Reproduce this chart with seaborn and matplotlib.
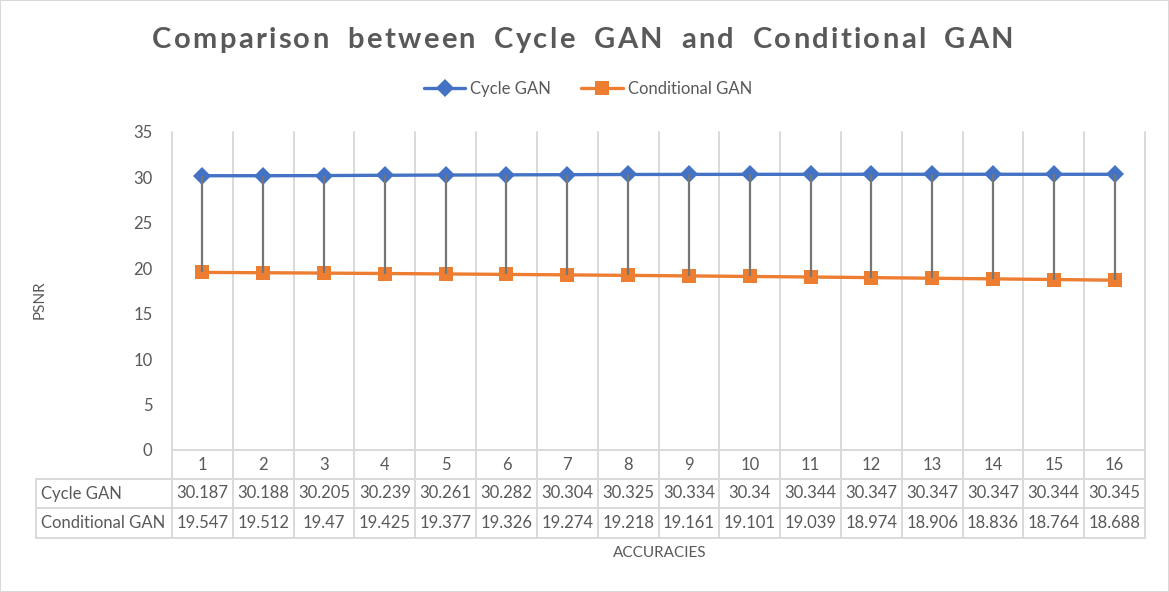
import numpy as np
import pandas as pd
import seaborn as sns
from matplotlib import pyplot as plt
from matplotlib.lines import Line2D
from matplotlib.patches import Rectangle

accuracies = list(range(1, 17))
cycle_gan = [30.187, 30.188, 30.205, 30.239, 30.261, 30.282, 30.304, 30.325,
             30.334, 30.34, 30.344, 30.347, 30.347, 30.347, 30.344, 30.345]
cond_gan = [19.547, 19.512, 19.47, 19.425, 19.377, 19.326, 19.274, 19.218,
            19.161, 19.101, 19.039, 18.974, 18.906, 18.836, 18.764, 18.688]
series_names = ['Cycle GAN', 'Conditional GAN']
y_ticks = [0, 5, 10, 15, 20, 25, 30, 35]
title = 'Comparison between Cycle GAN and Conditional GAN'

sns.set_style('white')
plt.rcParams['font.family'] = ['Lato', 'DejaVu Sans']

txt = '#595959'
blue = '#4472c4'
orange = '#ed7d31'
grid = '#d9d9d9'
n = len(accuracies)

df = pd.DataFrame({'pos': list(range(n)) * 2,
                   'PSNR': cycle_gan + cond_gan,
                   'model': [series_names[0]] * n + [series_names[1]] * n})

W, H = 1169, 592
fig = plt.figure(figsize=(W / 100, H / 100), dpi=100)
ax = fig.add_axes([172 / W, 1 - 450 / H, 973 / W, 318 / H])

# the two series
sns.lineplot(data=df[df.model == series_names[0]], x='pos', y='PSNR', color=blue,
             marker='D', markersize=9, markeredgewidth=0, linewidth=2.4,
             ax=ax, legend=False, zorder=3)
sns.lineplot(data=df[df.model == series_names[1]], x='pos', y='PSNR', color=orange,
             marker='s', markersize=10, markeredgewidth=0, linewidth=2.4,
             ax=ax, legend=False, zorder=3)

# drop lines between the series
ax.vlines(range(n), cond_gan, cycle_gan, color='#767676', lw=1.6, zorder=5)

ax.set_xlim(-0.5, n - 0.5)
ax.set_ylim(0, 35)
ax.set_yticks(y_ticks)
ax.set_xticks([])
ax.tick_params(axis='y', length=0, labelsize=12, labelcolor=txt, pad=14)
ax.set_xlabel('')
ax.set_ylabel('')
for s in ax.spines.values():
    s.set_visible(False)

# category gridlines, running down through the table
xt = ax.get_xaxis_transform()
y_rows = [0, -29 / 318, -58 / 318, -88 / 318]
for b in np.arange(-0.5, n, 1):
    ax.plot([b, b], [1, y_rows[-1]], transform=xt, color=grid, lw=1.4,
            clip_on=False, zorder=0)

# table borders
lab_x = (36 - 172) / 973
ax.plot([0, 1], [0, 0], transform=ax.transAxes, color=grid, lw=1.4, clip_on=False)
for yr in y_rows[1:]:
    ax.plot([lab_x, 1], [yr, yr], transform=ax.transAxes, color=grid, lw=1.4,
            clip_on=False)
ax.plot([lab_x, lab_x], [y_rows[1], y_rows[-1]], transform=ax.transAxes,
        color=grid, lw=1.4, clip_on=False)

# table text
for i in range(n):
    ax.text(i, (y_rows[0] + y_rows[1]) / 2, str(accuracies[i]), transform=xt,
            ha='center', va='center', fontsize=12, color=txt)
    ax.text(i, (y_rows[1] + y_rows[2]) / 2, f'{cycle_gan[i]:g}', transform=xt,
            ha='center', va='center', fontsize=12, color=txt)
    ax.text(i, (y_rows[2] + y_rows[3]) / 2, f'{cond_gan[i]:g}', transform=xt,
            ha='center', va='center', fontsize=12, color=txt)
for k, name in enumerate(series_names):
    ax.text(lab_x + 5 / 973, (y_rows[k + 1] + y_rows[k + 2]) / 2, name,
            transform=ax.transAxes, ha='left', va='center', fontsize=12, color=txt)

# axis labels
fig.text(40 / W, 1 - 300 / H, 'PSNR', rotation=90, ha='center', va='center',
         fontsize=11, color=txt)
fig.text(660 / W, 1 - 553 / H, 'ACCURACIES', ha='center', va='center',
         fontsize=11, color=txt)

# title with wide letter spacing, placed char by char
renderer = fig.canvas.get_renderer()
def text_w(s):
    t = fig.text(0, 0, s, fontsize=21, fontweight='bold')
    w = t.get_window_extent(renderer).width
    t.remove()
    return w
space_w = text_w('n n') - text_w('nn')
widths = [space_w * 2.0 if ch == ' ' else text_w(ch) for ch in title]
gap = (861 - sum(widths)) / (len(title) - 1)
x = 152
for ch, w in zip(title, widths):
    if ch != ' ':
        fig.text(x / W, 1 - 48 / H, ch, fontsize=21, fontweight='bold', color=txt,
                 ha='left', va='baseline')
    x += w + gap

handles = [Line2D([], [], color=blue, marker='D', markersize=9, lw=2.4, mew=0),
           Line2D([], [], color=orange, marker='s', markersize=10, lw=2.4, mew=0)]
fig.legend(handles, series_names, loc='center', bbox_to_anchor=(588 / W, 1 - 89 / H),
           ncol=2, frameon=False, fontsize=12, labelcolor=txt, handlelength=2.5,
           columnspacing=1.8, handletextpad=0.3)

fig.patches.append(Rectangle((0, 0), 1, 1, transform=fig.transFigure, fill=False,
                             edgecolor=grid, lw=1.5))

fig.savefig('out.png', dpi=100)
